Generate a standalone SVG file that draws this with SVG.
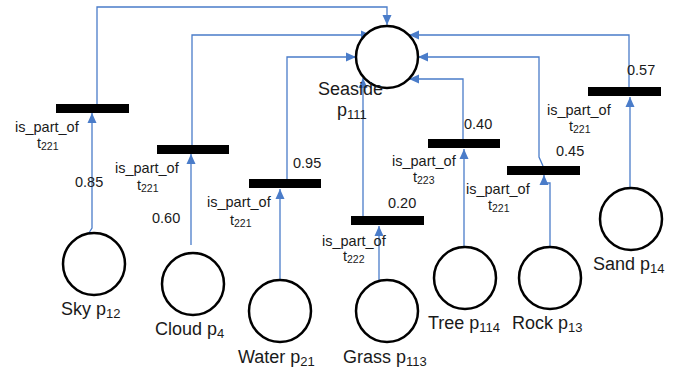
<svg xmlns="http://www.w3.org/2000/svg" width="686" height="369" viewBox="0 0 686 369">
<defs>
<marker id="arr" markerUnits="userSpaceOnUse" markerWidth="10" markerHeight="10" viewBox="0 0 10 10" refX="10" refY="5" orient="auto">
<path d="M0,0.5 L10,5 L0,9.5 Z" fill="#4a7cc9"/>
</marker>
<style>
.place{fill:#fff;stroke:#000;stroke-width:2.5}
.bar{fill:#000}
.edge{fill:none;stroke:#4a7cc9;stroke-width:1.3}
.arr{marker-end:url(#arr)}
.lbl{font-family:"Liberation Sans",Arial,sans-serif;font-size:18px;fill:#1a1a1a}
.sm{font-family:"Liberation Sans",Arial,sans-serif;font-size:14.5px;fill:#1a1a1a}
</style>
</defs>
<rect width="686" height="369" fill="#fff"/>
<g id="connectors">
<path class="edge arr" d="M87,236 L92,228 L92,113"/>
<path class="edge arr" d="M97,104 L97,7 L387,7 L387,25"/>
<path class="edge arr" d="M191,245 L191,154"/>
<path class="edge arr" d="M192,145 L192,35 L371,35"/>
<path class="edge arr" d="M280,280 L280,189"/>
<path class="edge arr" d="M287,179 L287,57 L356,57"/>
<path class="edge arr" d="M379,281 L379,226"/>
<path class="edge arr" d="M363,216 L363,78"/>
<path class="edge arr" d="M464,247 L464,149"/>
<path class="edge arr" d="M463,139 L463,79 L409,79"/>
<path class="edge arr" d="M550,248 L550,183 L544,183 L544,175"/>
<path class="edge arr" d="M543,166 L539,157 L539,57 L418,57"/>
<path class="edge arr" d="M630,188 L630,97"/>
<path class="edge arr" d="M629,87 L629,35 L409,35"/>
</g>
<g id="seaside">
<circle class="place" cx="387" cy="57" r="31"/>
<text class="lbl" x="318" y="95">Seaside</text>
<text class="lbl" x="337" y="116">p<tspan font-size="13" dy="3">111</tspan></text>
</g>
<g id="sky">
<circle class="place" cx="94" cy="264" r="31"/>
<text class="lbl" x="61" y="315">Sky p<tspan font-size="13" dy="3">12</tspan></text>
</g>
<g id="cloud">
<circle class="place" cx="193" cy="284" r="31"/>
<text class="lbl" x="155" y="335">Cloud p<tspan font-size="13" dy="3">4</tspan></text>
</g>
<g id="water">
<circle class="place" cx="280" cy="311" r="31"/>
<text class="lbl" x="238" y="363">Water p<tspan font-size="13" dy="3">21</tspan></text>
</g>
<g id="grass">
<circle class="place" cx="387" cy="311" r="31"/>
<text class="lbl" x="343" y="363">Grass p<tspan font-size="13" dy="3">113</tspan></text>
</g>
<g id="tree">
<circle class="place" cx="465" cy="278" r="31"/>
<text class="lbl" x="428" y="329">Tree p<tspan font-size="13" dy="3">114</tspan></text>
</g>
<g id="rock">
<circle class="place" cx="550" cy="278" r="31"/>
<text class="lbl" x="512" y="329">Rock p<tspan font-size="13" dy="3">13</tspan></text>
</g>
<g id="sand">
<circle class="place" cx="631" cy="219" r="31"/>
<text class="lbl" x="593" y="270">Sand p<tspan font-size="13" dy="3">14</tspan></text>
</g>
<g id="t-sky">
<rect class="bar" x="56" y="104" width="73" height="9"/>
<text class="sm" x="15" y="132">is_part_of</text>
<text class="sm" x="37" y="148">t<tspan font-size="10.5" dy="2">221</tspan></text>
<text class="sm" x="75" y="187">0.85</text>
</g>
<g id="t-cloud">
<rect class="bar" x="157" y="145" width="72" height="9"/>
<text class="sm" x="115" y="173">is_part_of</text>
<text class="sm" x="137" y="190">t<tspan font-size="10.5" dy="2">221</tspan></text>
<text class="sm" x="152" y="223">0.60</text>
</g>
<g id="t-water">
<rect class="bar" x="249" y="179" width="72" height="9"/>
<text class="sm" x="207" y="207">is_part_of</text>
<text class="sm" x="230" y="225">t<tspan font-size="10.5" dy="2">221</tspan></text>
<text class="sm" x="293" y="168">0.95</text>
</g>
<g id="t-grass">
<rect class="bar" x="351" y="216" width="73" height="9"/>
<text class="sm" x="322" y="246">is_part_of</text>
<text class="sm" x="343" y="261">t<tspan font-size="10.5" dy="2">222</tspan></text>
<text class="sm" x="388" y="208">0.20</text>
</g>
<g id="t-tree">
<rect class="bar" x="428" y="139" width="72" height="9"/>
<text class="sm" x="392" y="166">is_part_of</text>
<text class="sm" x="413" y="182">t<tspan font-size="10.5" dy="2">223</tspan></text>
<text class="sm" x="464" y="129">0.40</text>
</g>
<g id="t-rock">
<rect class="bar" x="507" y="166" width="73" height="9"/>
<text class="sm" x="466" y="194">is_part_of</text>
<text class="sm" x="488" y="210">t<tspan font-size="10.5" dy="2">221</tspan></text>
<text class="sm" x="556" y="156">0.45</text>
</g>
<g id="t-sand">
<rect class="bar" x="588" y="87" width="73" height="9"/>
<text class="sm" x="547" y="115">is_part_of</text>
<text class="sm" x="569" y="131">t<tspan font-size="10.5" dy="2">221</tspan></text>
<text class="sm" x="627" y="75">0.57</text>
</g>
</svg>
